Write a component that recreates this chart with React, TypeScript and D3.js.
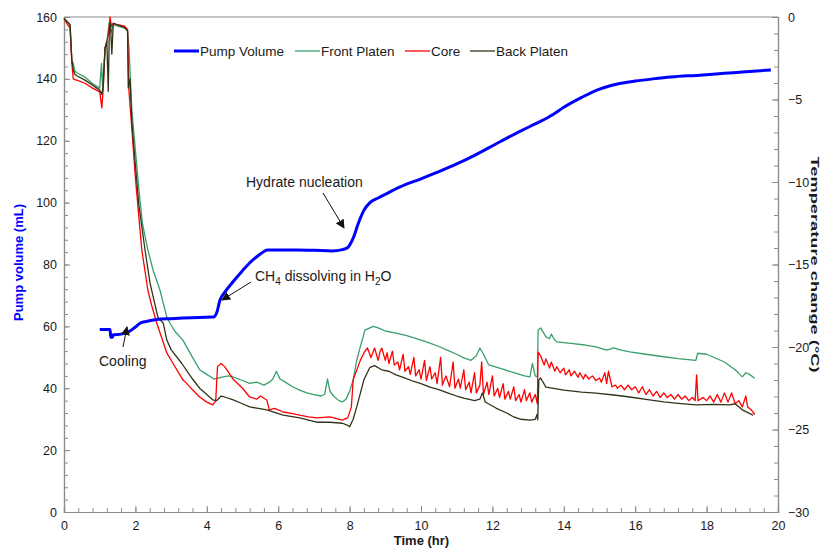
import { useRef, useEffect } from 'react'
import * as d3 from 'd3'

// pump volume (mL) vs time (hr)
const pumpVolume: [number, number][] = [
  [1.0, 59], [1.29, 59], [1.31, 56.5], [1.36, 56.5], [1.38, 57.3], [1.6, 57.5], [1.7, 57.8],
  [1.85, 58.5], [2.0, 59.8], [2.13, 61], [2.3, 61.6], [2.6, 62.2], [3.0, 62.5], [3.33, 62.7],
  [3.8, 62.9], [4.18, 63], [4.28, 64.5], [4.37, 68.5], [4.5, 71], [4.74, 74.5], [5.0, 78],
  [5.2, 80.5], [5.4, 82.5], [5.6, 84.2], [5.7, 84.7], [6.5, 84.7], [7.0, 84.6], [7.5, 84.4],
  [7.8, 84.8], [7.95, 85.5], [8.1, 88.5], [8.25, 93.5], [8.4, 97.5], [8.57, 100], [8.8, 101.5],
  [9.0, 102.7], [9.4, 105], [10.0, 107.7], [10.5, 110], [11.0, 112.5], [11.5, 115.3],
  [12.2, 119.6], [12.8, 123.2], [13.3, 126], [13.7, 128.5], [14.0, 130.8], [14.5, 134],
  [15.0, 136.7], [15.3, 137.8], [15.6, 138.6], [16.0, 139.3], [16.5, 140], [17.0, 140.6],
  [17.8, 141.2], [18.5, 141.8], [19.0, 142.2], [19.8, 142.9],
]

// temperature change (°C) vs time (hr)
const frontPlaten: [number, number][] = [
  [0, -0.08], [0.1, -0.28], [0.17, -0.47], [0.22, -2.63], [0.26, -2.81], [0.3, -3.28], [0.36, -3.38],
  [0.6, -3.66], [0.8, -4.03], [1.0, -4.31], [1.05, -2.81], [1.08, -4.22], [1.15, -1.88], [1.2, -1.5],
  [1.27, -0.28], [1.32, -0.94], [1.38, -0.47], [1.5, -0.56], [1.7, -0.66], [1.78, -0.84], [1.82, -1.88],
  [1.9, -5.63], [2.0, -8.06], [2.1, -10.5], [2.2, -12.56], [2.35, -14.12], [2.5, -15.38], [2.69, -16.56],
  [2.88, -18.19], [2.97, -18.56], [3.1, -19.03], [3.33, -19.58], [3.6, -20.63], [3.8, -21.38],
  [4.0, -21.66], [4.2, -21.94], [4.4, -21.84], [4.6, -21.75], [4.75, -21.83], [5.0, -22.03],
  [5.2, -22.2], [5.4, -22.13], [5.6, -22.31], [5.75, -22.13], [5.85, -21.94], [5.95, -21.47],
  [6.05, -21.94], [6.2, -22.13], [6.4, -22.41], [6.6, -22.61], [6.8, -22.78], [7.0, -22.88],
  [7.2, -22.97], [7.3, -22.88], [7.38, -21.94], [7.45, -22.69], [7.55, -22.97], [7.7, -23.25],
  [7.8, -23.33], [7.9, -23.16], [8.0, -22.69], [8.1, -21.99], [8.2, -20.81], [8.3, -19.99],
  [8.43, -18.98], [8.66, -18.75], [8.8, -18.84], [9.0, -19.03], [9.3, -19.16], [9.6, -19.31],
  [10.0, -19.59], [10.25, -19.76], [10.5, -19.97], [10.8, -20.25], [11.0, -20.44], [11.2, -20.66],
  [11.4, -20.81], [11.55, -20.53], [11.65, -20.06], [11.75, -20.44], [11.9, -21.09], [12.2, -21.28],
  [12.6, -21.56], [12.9, -21.75], [13.05, -21.81], [13.12, -21.0], [13.2, -21.75], [13.26, -21.81],
  [13.28, -18.98], [13.35, -18.84], [13.5, -19.39], [13.6, -19.5], [13.65, -19.22], [13.75, -19.59],
  [13.8, -19.69], [14.2, -19.78], [14.6, -19.88], [14.9, -19.99], [15.2, -20.19], [15.4, -20.06],
  [15.6, -20.19], [15.85, -20.29], [16.3, -20.44], [16.8, -20.59], [17.2, -20.7], [17.7, -20.81],
  [17.75, -20.38], [18.0, -20.44], [18.5, -20.91], [18.8, -21.38], [19.0, -21.81], [19.1, -21.56],
  [19.2, -21.66], [19.35, -21.9],
]

const core: [number, number][] = [
  [0, -0.09], [0.1, -0.47], [0.17, -0.66], [0.22, -2.81], [0.26, -3.75], [0.3, -3.79], [0.36, -3.83],
  [0.6, -4.03], [0.8, -4.31], [1.0, -4.54], [1.06, -5.51], [1.1, -4.31], [1.15, -1.88], [1.2, -1.5],
  [1.25, -0.94], [1.29, 0], [1.33, -0.56], [1.38, -0.38], [1.5, -0.47], [1.7, -0.56], [1.78, -0.75],
  [1.82, -4.5], [1.9, -6.75], [2.0, -9.75], [2.1, -12.19], [2.18, -14.12], [2.35, -16.56],
  [2.45, -17.44], [2.6, -18.56], [2.88, -20.36], [3.03, -20.91], [3.33, -21.99], [3.44, -22.22],
  [3.6, -22.59], [3.8, -23.03], [4.0, -23.34], [4.17, -23.51], [4.25, -23.25], [4.3, -21.19],
  [4.4, -21.0], [4.5, -21.19], [4.75, -21.99], [5.0, -22.5], [5.2, -23.03], [5.4, -23.16],
  [5.5, -22.97], [5.68, -23.21], [5.75, -23.81], [5.9, -23.72], [6.14, -23.94], [6.4, -24.04],
  [6.6, -24.13], [6.85, -24.23], [7.08, -24.3], [7.45, -24.24], [7.8, -24.43], [7.95, -24.28],
  [8.05, -23.63], [8.1, -21.99], [8.3, -20.81], [8.4, -20.36], [8.5, -20.06], [8.6, -20.63],
  [8.7, -20.06], [8.8, -20.81], [8.85, -20.31], [8.9, -20.06], [9.0, -20.81], [9.05, -20.34],
  [9.1, -21.0], [9.2, -20.25], [9.25, -21.09], [9.35, -20.91], [9.4, -21.38], [9.5, -20.44],
  [9.55, -21.47], [9.65, -21.19], [9.7, -21.66], [9.8, -20.63], [9.85, -21.75], [9.95, -21.38],
  [10.0, -21.94], [10.1, -20.81], [10.15, -22.03], [10.25, -21.19], [10.3, -21.94], [10.4, -21.56],
  [10.45, -22.22], [10.55, -20.63], [10.6, -22.31], [10.7, -21.75], [10.8, -22.41], [10.9, -20.91],
  [10.95, -22.5], [11.05, -21.94], [11.1, -22.5], [11.2, -21.38], [11.25, -22.59], [11.35, -22.13],
  [11.4, -22.78], [11.5, -21.56], [11.55, -22.78], [11.65, -22.31], [11.7, -20.91], [11.75, -22.88],
  [11.85, -22.13], [11.9, -22.88], [12.0, -21.75], [12.05, -22.97], [12.15, -22.5], [12.2, -23.06],
  [12.3, -22.22], [12.35, -23.16], [12.45, -22.69], [12.5, -23.16], [12.6, -22.41], [12.65, -23.25],
  [12.75, -22.88], [12.8, -23.34], [12.9, -22.59], [12.95, -23.25], [13.05, -22.78], [13.1, -23.34],
  [13.2, -22.88], [13.26, -23.44],
  [13.28, -20.31], [13.35, -20.53], [13.45, -21.09], [13.5, -20.72], [13.6, -21.28], [13.65, -20.91],
  [13.75, -21.47], [13.8, -21.19], [13.9, -21.56], [14.0, -21.28], [14.05, -21.69], [14.15, -21.38],
  [14.2, -21.75], [14.3, -21.47], [14.4, -21.84], [14.45, -21.56], [14.55, -21.94], [14.6, -21.66],
  [14.7, -21.94], [14.8, -21.75], [14.9, -22.03], [15.0, -21.88], [15.05, -22.13], [15.15, -21.56],
  [15.2, -22.22], [15.25, -21.47], [15.35, -22.41], [15.45, -22.31], [15.5, -22.5], [15.6, -22.31],
  [15.7, -22.59], [15.8, -22.31], [15.9, -22.59], [16.0, -22.41], [16.1, -22.78], [16.2, -22.41],
  [16.3, -22.88], [16.4, -22.59], [16.5, -22.97], [16.6, -22.69], [16.7, -23.06], [16.8, -22.78],
  [16.9, -23.06], [17.0, -22.88], [17.1, -23.16], [17.2, -22.88], [17.3, -23.16], [17.4, -22.97],
  [17.5, -23.25], [17.6, -23.06], [17.68, -23.25], [17.72, -21.69], [17.76, -23.25], [17.9, -23.06],
  [18.0, -23.25], [18.1, -22.97], [18.2, -23.34], [18.3, -22.88], [18.4, -23.34], [18.5, -22.78],
  [18.6, -23.34], [18.7, -22.78], [18.8, -23.44], [18.9, -23.25], [19.0, -23.63], [19.1, -22.97],
  [19.15, -23.63], [19.25, -23.81], [19.35, -24.09],
]

const backPlaten: [number, number][] = [
  [0, -0.08], [0.1, -0.32], [0.17, -0.47], [0.22, -2.63], [0.26, -3.19], [0.3, -3.47], [0.36, -3.56],
  [0.6, -3.84], [0.8, -4.13], [1.0, -4.43], [1.06, -4.69], [1.1, -4.13], [1.15, -1.88], [1.2, -1.5],
  [1.24, -4.5], [1.27, -0.75], [1.3, -0.38], [1.34, -2.25], [1.38, -0.38], [1.5, -0.47], [1.7, -0.66],
  [1.78, -0.84], [1.8, -4.31], [1.85, -3.75], [1.9, -6.38], [2.0, -9.0], [2.1, -11.44], [2.27, -14.12],
  [2.41, -16.13], [2.63, -18.19], [2.78, -18.56], [2.88, -19.58], [3.0, -20.16], [3.3, -21.0],
  [3.6, -21.94], [3.8, -22.5], [4.0, -22.88], [4.17, -23.21], [4.28, -23.25], [4.4, -22.97],
  [4.5, -23.03], [4.74, -23.21], [5.0, -23.44], [5.2, -23.63], [5.68, -23.81], [6.14, -24.13],
  [6.6, -24.3], [7.08, -24.56], [7.45, -24.56], [7.8, -24.62], [7.95, -24.75], [8.0, -24.84],
  [8.1, -24.38], [8.2, -23.63], [8.4, -21.99], [8.57, -21.23], [8.7, -21.13], [8.9, -21.38],
  [9.1, -21.47], [9.3, -21.69], [9.5, -21.84], [9.8, -22.09], [10.0, -22.22], [10.25, -22.43],
  [10.5, -22.59], [10.8, -22.82], [11.0, -22.97], [11.2, -23.1], [11.5, -23.25], [11.65, -23.16],
  [11.72, -22.78], [11.8, -23.33], [12.1, -23.7], [12.4, -24.0], [12.6, -24.24], [12.8, -24.38],
  [13.05, -24.43], [13.2, -24.38], [13.25, -24.09], [13.27, -24.41], [13.3, -21.99], [13.35, -21.88],
  [13.5, -22.43], [14.0, -22.61], [14.5, -22.73], [14.9, -22.8], [15.4, -22.91], [15.85, -23.03],
  [16.3, -23.18], [16.8, -23.33], [17.2, -23.42], [17.7, -23.51], [18.2, -23.48], [18.65, -23.51],
  [18.8, -23.44], [19.0, -23.81], [19.3, -24.13],
]

const timeTicks = [0, 2, 4, 6, 8, 10, 12, 14, 16, 18, 20]
const volumeTicks = [0, 20, 40, 60, 80, 100, 120, 140, 160]
const tempTicks = [0, -5, -10, -15, -20, -25, -30]

const legendItems = [
  { label: 'Pump Volume', color: '#0000ff', width: 3 },
  { label: 'Front Platen', color: '#3a9f6c', width: 1.3 },
  { label: 'Core', color: '#ff0000', width: 1.3 },
  { label: 'Back Platen', color: '#33331a', width: 1.3 },
]

const FONT = '"Liberation Sans", Arial, sans-serif'

const App = () => {
  const svgRef = useRef<SVGSVGElement>(null)

  useEffect(() => {
    const W = 823, H = 548
    const margin = { top: 17, right: 45, bottom: 36, left: 64 }
    const width = W - margin.left - margin.right
    const height = H - margin.top - margin.bottom

    const root = d3.select(svgRef.current)
    root.selectAll('*').remove()
    root.attr('width', W).attr('height', H)

    const defs = root.append('defs')
    defs.append('marker')
      .attr('id', 'arrow')
      .attr('viewBox', '0 0 10 10')
      .attr('refX', 9).attr('refY', 5)
      .attr('markerWidth', 9).attr('markerHeight', 9)
      .attr('markerUnits', 'userSpaceOnUse')
      .attr('orient', 'auto')
      .append('path')
      .attr('d', 'M0,0 L10,5 L0,10 z')
      .attr('fill', '#111')

    const svg = root.append('g').attr('transform', `translate(${margin.left},${margin.top})`)

    const x = d3.scaleLinear().domain([0, 20]).range([0, width])
    const yL = d3.scaleLinear().domain([0, 160]).range([height, 0])
    const yR = d3.scaleLinear().domain([-30, 0]).range([height, 0])

    const axisColor = '#8c8c8c'

    // frame
    svg.append('line').attr('x1', 0).attr('x2', width).attr('y1', 0).attr('y2', 0)
      .attr('stroke', axisColor).attr('stroke-width', 1.2)

    // bottom axis
    const xAxis = svg.append('g').attr('transform', `translate(0,${height})`)
    xAxis.call(d3.axisBottom(x).tickValues(d3.range(0, 20.01, 0.4)).tickSize(-4).tickFormat(() => ''))
    xAxis.call(g => g.append('g').call(d3.axisBottom(x).tickValues(timeTicks).tickSize(-6).tickFormat(d3.format('d'))))
    // left axis
    const lAxis = svg.append('g')
    lAxis.call(d3.axisLeft(yL).tickValues(d3.range(0, 160.01, 4)).tickSize(-4).tickFormat(() => ''))
    lAxis.call(g => g.append('g').call(d3.axisLeft(yL).tickValues(volumeTicks).tickSize(-6).tickFormat(d3.format('d'))))
    // right axis
    const rAxis = svg.append('g').attr('transform', `translate(${width},0)`)
    rAxis.call(d3.axisRight(yR).tickValues(d3.range(-30, 0.01, 1)).tickSize(-4).tickFormat(() => ''))
    rAxis.call(g => g.append('g').call(d3.axisRight(yR).tickValues(tempTicks).tickSize(-6).tickFormat(d3.format('d'))))

    svg.selectAll('.domain').attr('stroke', axisColor).attr('stroke-width', 1.2)
    svg.selectAll('.tick line').attr('stroke', axisColor)
    svg.selectAll('.tick text').attr('font-family', FONT).attr('font-size', 12.5).attr('fill', '#1a1a1a')
    xAxis.selectAll('.tick text').attr('y', 9)
    lAxis.selectAll('.tick text').attr('x', -7)
    rAxis.selectAll('.tick text').attr('x', 10)

    // temperature lines
    const tLine = d3.line<[number, number]>().x(d => x(d[0])).y(d => yR(d[1]))
    const series = [
      { data: frontPlaten, color: legendItems[1].color },
      { data: core, color: legendItems[2].color },
      { data: backPlaten, color: legendItems[3].color },
    ]
    series.forEach(s => {
      svg.append('path')
        .attr('d', tLine(s.data))
        .attr('fill', 'none')
        .attr('stroke', s.color)
        .attr('stroke-width', 1.3)
        .attr('stroke-linejoin', 'round')
    })

    // pump volume
    const vLine = d3.line<[number, number]>().x(d => x(d[0])).y(d => yL(d[1])).curve(d3.curveMonotoneX)
    svg.append('path')
      .attr('d', vLine(pumpVolume))
      .attr('fill', 'none')
      .attr('stroke', legendItems[0].color)
      .attr('stroke-width', 3)
      .attr('stroke-linejoin', 'round')

    // legend
    const legendPos = [110, 231, 341, 406]
    const leg = svg.append('g').attr('transform', 'translate(0,34)')
    legendItems.forEach((item, i) => {
      const lx = legendPos[i]
      leg.append('line').attr('x1', lx).attr('x2', lx + 25).attr('y1', 0).attr('y2', 0)
        .attr('stroke', item.color).attr('stroke-width', item.width)
      leg.append('text').attr('x', lx + 26).attr('y', 5)
        .attr('font-family', FONT).attr('font-size', 13.5).attr('fill', '#1a1a1a')
        .text(item.label)
    })

    // annotations (page coordinates)
    const ann = root.append('g').attr('font-family', FONT).attr('font-size', 14).attr('fill', '#1a1a1a')
    ann.append('text').attr('x', 246).attr('y', 187).text('Hydrate nucleation')
    ann.append('line').attr('x1', 323).attr('y1', 193).attr('x2', 344).attr('y2', 228)
      .attr('stroke', '#111').attr('stroke-width', 1).attr('marker-end', 'url(#arrow)')

    const ch4 = ann.append('text').attr('x', 255).attr('y', 281)
    ch4.append('tspan').text('CH')
    ch4.append('tspan').attr('font-size', 10).attr('dy', 4).text('4')
    ch4.append('tspan').attr('dy', -4).text(' dissolving in H')
    ch4.append('tspan').attr('font-size', 10).attr('dy', 4).text('2')
    ch4.append('tspan').attr('dy', -4).text('O')
    ann.append('line').attr('x1', 251).attr('y1', 282).attr('x2', 222).attr('y2', 300)
      .attr('stroke', '#111').attr('stroke-width', 1).attr('marker-end', 'url(#arrow)')

    ann.append('text').attr('x', 99).attr('y', 366).text('Cooling')
    ann.append('line').attr('x1', 123).attr('y1', 347).attr('x2', 127).attr('y2', 327)
      .attr('stroke', '#111').attr('stroke-width', 1).attr('marker-end', 'url(#arrow)')

    // axis titles
    root.append('text')
      .attr('x', W / 2 + 10).attr('y', 545)
      .attr('text-anchor', 'middle')
      .attr('font-family', FONT).attr('font-size', 13).attr('font-weight', 'bold').attr('fill', '#1a1a1a')
      .text('Time (hr)')
    root.append('text')
      .attr('transform', `translate(23,${margin.top + height / 2 - 2}) rotate(-90)`)
      .attr('text-anchor', 'middle')
      .attr('font-family', FONT).attr('font-size', 13).attr('font-weight', 'bold').attr('fill', '#0000ff')
      .text('Pump volume (mL)')
    root.append('text')
      .attr('transform', `translate(811,${margin.top + height / 2}) rotate(90)`)
      .attr('text-anchor', 'middle')
      .attr('font-family', FONT).attr('font-size', 11.5).attr('font-weight', 'bold').attr('fill', '#1a1a1a')
      .attr('textLength', 216).attr('lengthAdjust', 'spacingAndGlyphs')
      .text('Temperature change (\u00B0C)')
  }, [])

  return (
    <svg ref={svgRef} style={{ position: 'absolute', left: 0, top: 0, display: 'block', background: '#fff' }}></svg>
  )
}

export default App
